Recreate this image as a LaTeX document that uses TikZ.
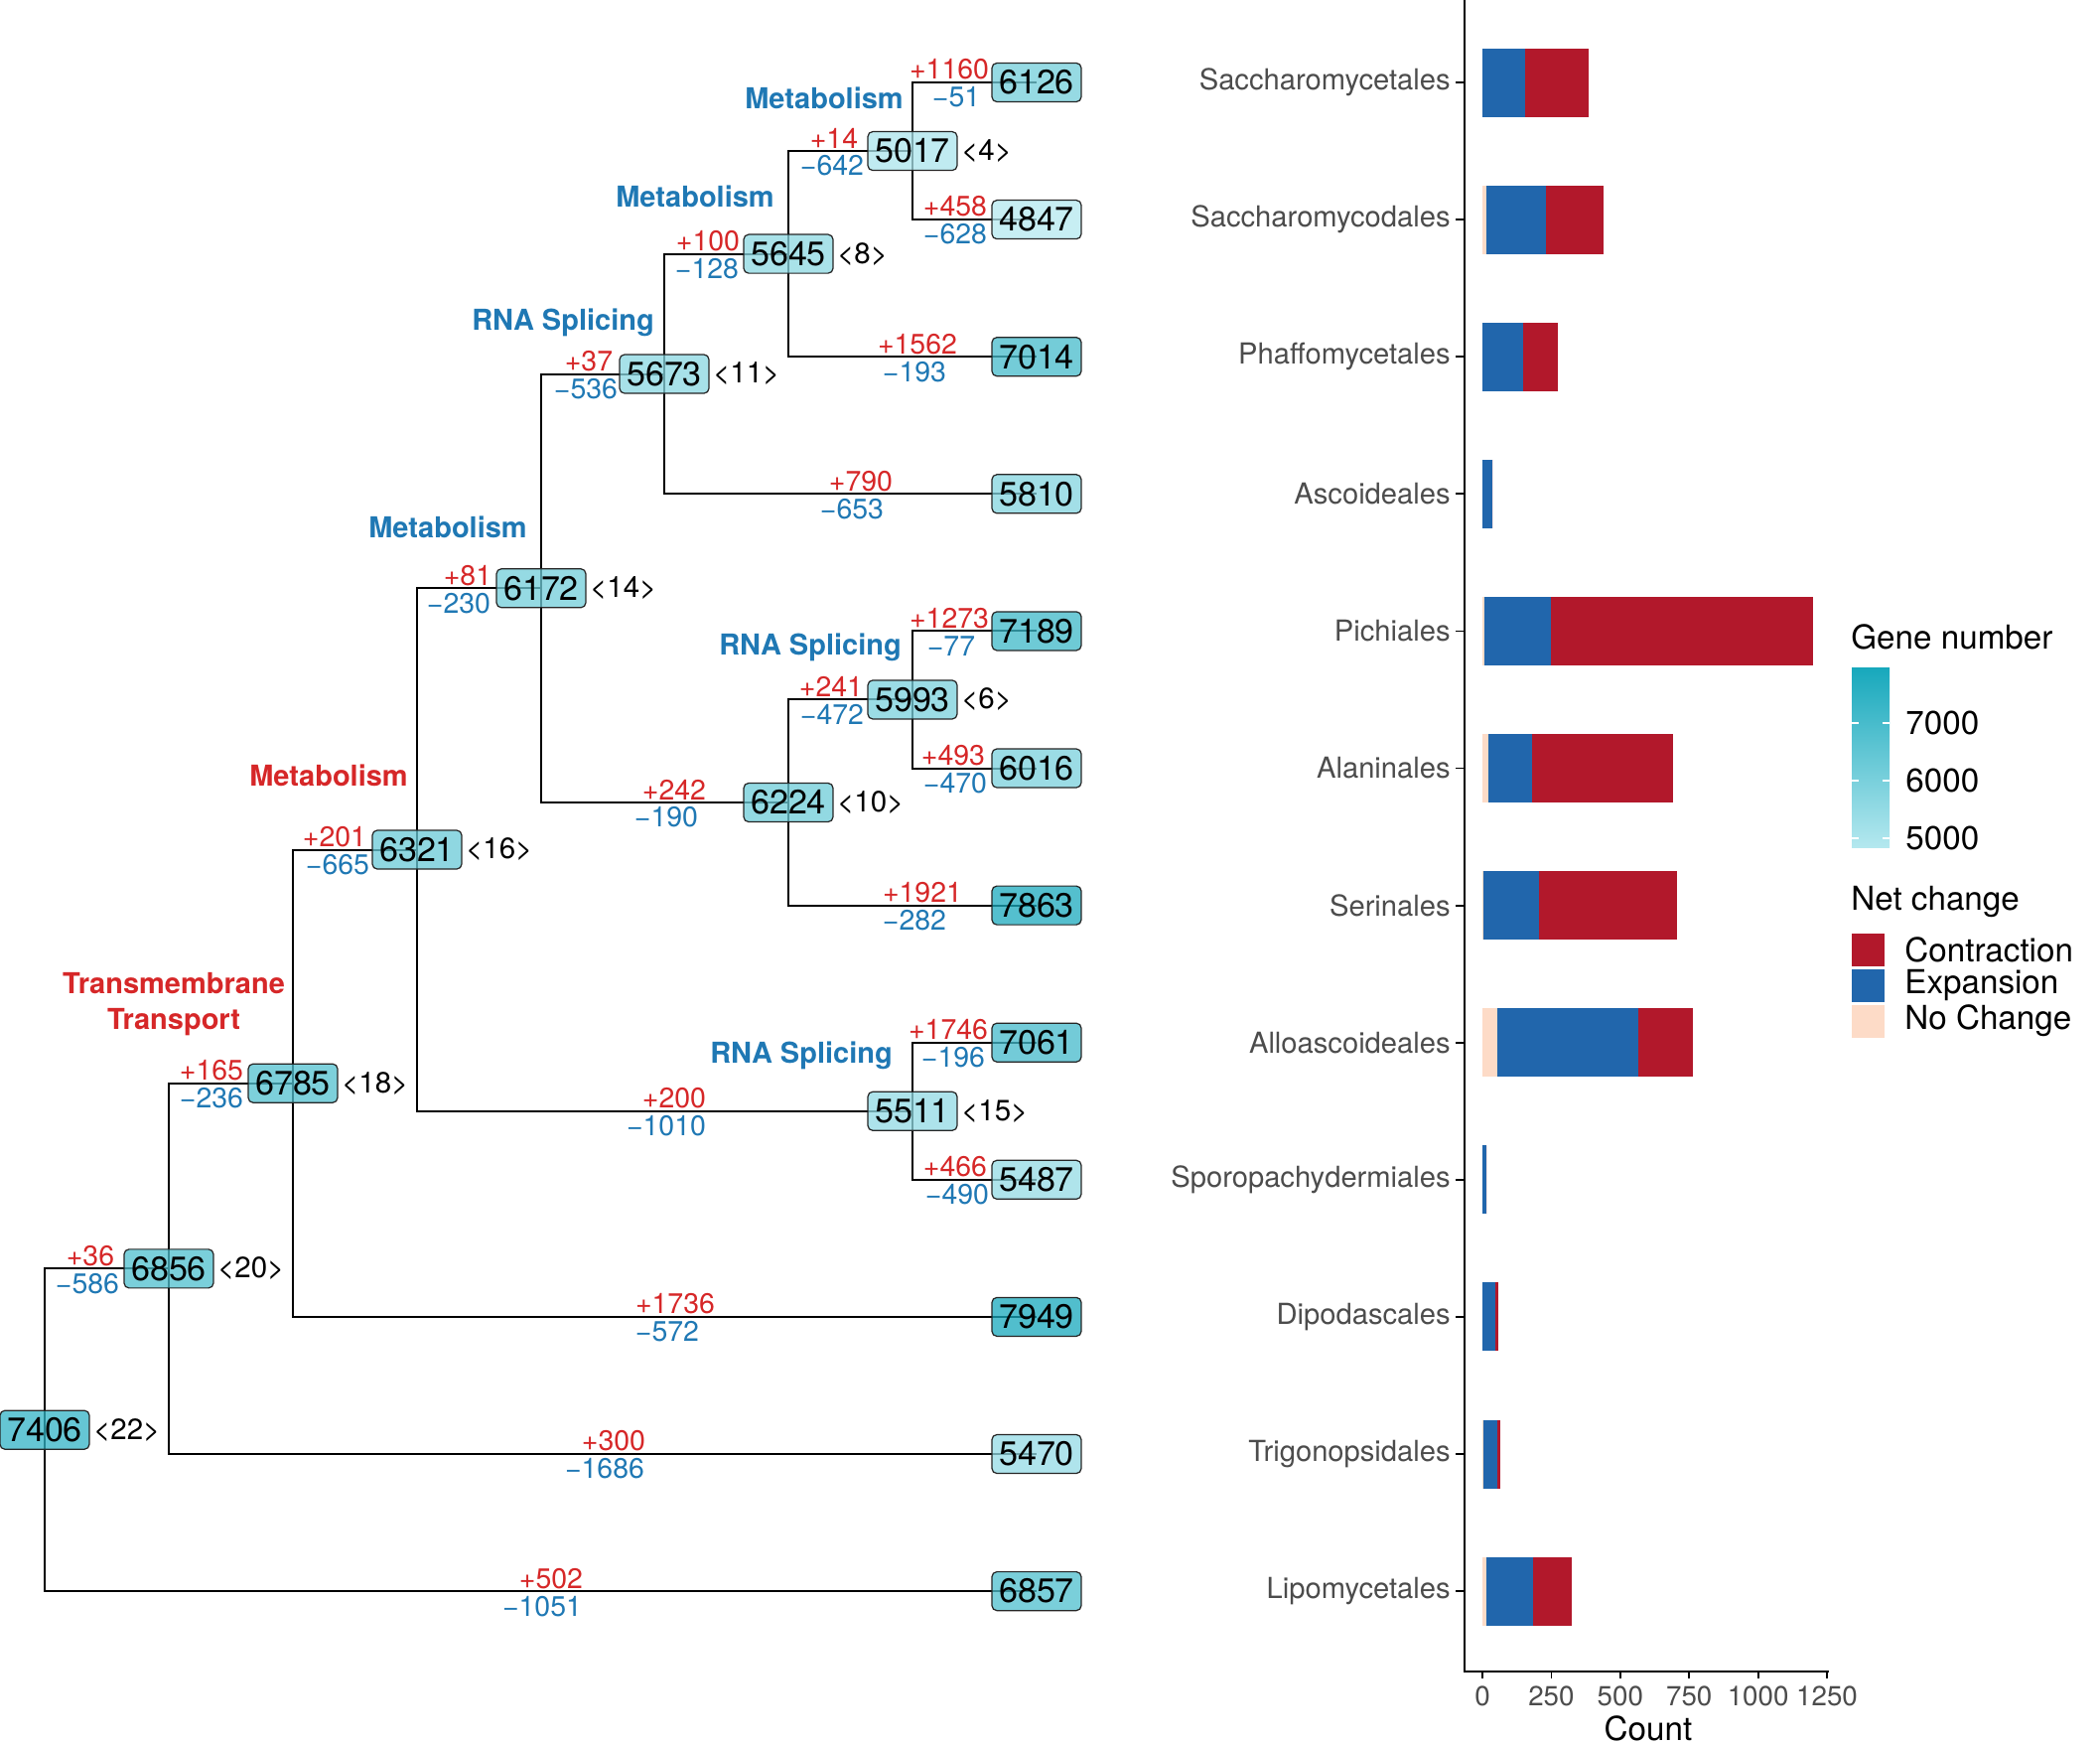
\documentclass[tikz,border=0pt]{standalone}
\usepackage{fontspec}
\setmainfont{TeX Gyre Heros}
\usepackage{tikz}
\usetikzlibrary{positioning}
\usetikzlibrary{backgrounds}

\definecolor{plusred}{HTML}{D62728}
\definecolor{minusblue}{HTML}{1F78B4}
\definecolor{contr}{HTML}{B2182B}
\definecolor{expan}{HTML}{2166AC}
\definecolor{nochg}{HTML}{FDDBC7}
\definecolor{genehi}{HTML}{17A8BC}
\definecolor{genelo}{HTML}{B4E8EF}

\begin{document}
\begin{tikzpicture}[x=0.02cm, y=-0.02cm,
  branch/.style={line width=1.15pt},
  gn/.style={/utils/exec={\pgfmathsetmacro\gpct{(#1-4847)/31.02}},
    fill=genehi!\gpct!genelo, fill opacity=0.75, text opacity=1,
    draw=black!85, line width=0.7pt, rounded corners=2.8pt,
    minimum width=51.2pt, minimum height=22.2pt, inner sep=0pt,
    font=\fontsize{19.4}{20}\selectfont},
  gain/.style={text=plusred, inner sep=0pt, font=\fontsize{16.2}{17}\selectfont},
  loss/.style={text=minusblue, inner sep=0pt, font=\fontsize{16.2}{17}\selectfont},
  tally/.style={inner sep=0pt, font=\fontsize{16.8}{17}\selectfont},
  func/.style={inner sep=0pt, align=center, font=\bfseries\fontsize{16.5}{20.5}\selectfont},
  ordlab/.style={text=black!70, inner sep=0pt, font=\fontsize{16.6}{17}\selectfont},
  ticklab/.style={text=black!70, inner sep=0pt, font=\fontsize{15.8}{16}\selectfont},
  leg/.style={inner sep=0pt, font=\fontsize{18.9}{20}\selectfont},
  axis/.style={line width=1.5pt}]
\useasboundingbox (0,0) rectangle (2115,1756);

% tree nodes: gene number / x / y
\foreach \g/\x/\y in {6126/1044/83, 4847/1044/221.1, 7014/1044/359.2, 5810/1044/497.3,
    7189/1044/635.4, 6016/1044/773.5, 7863/1044/911.6, 7061/1044/1049.7,
    5487/1044/1187.8, 7949/1044/1325.9, 5470/1044/1464, 6857/1044/1602.1,
    5017/919/152.05, 5993/919/704.45, 5511/919/1118.75, 5645/794/255.6,
    6224/794/808, 5673/669/376.5, 6172/545/592.25, 6321/420/855.5,
    6785/295/1090.7, 6856/170/1277.35, 7406/45/1439.7}
  \node[gn=\g] (n\g) at (\x,\y) {\g};

\begin{scope}[on background layer]
\foreach \p/\c in {7406/6856, 7406/6857, 6856/6785, 6856/5470, 6785/6321, 6785/7949,
    6321/6172, 6321/5511, 6172/5673, 6172/6224, 5673/5645, 5673/5810,
    5645/5017, 5645/7014, 5017/6126, 5017/4847, 6224/5993, 6224/7863,
    5993/7189, 5993/6016, 5511/7061, 5511/5487}
  \draw[branch] (n\p.center) |- (n\c.center);
\end{scope}

% gains and losses on each branch
\foreach \y/\xa/\pl/\xb/\mi in {83/956/1160/963/51, 221.1/962/458/962/628,
    152.05/840/14/838/642, 359.2/924/1562/921/193, 255.6/713/100/712/128,
    497.3/867/790/858/653, 376.5/593/37/590/536, 635.4/956/1273/958/77,
    773.5/960/493/962/470, 704.45/837/241/838/472, 911.6/929/1921/921/282,
    808/679/242/671/190, 592.25/471/81/462/230, 1049.7/955/1746/960/196,
    1187.8/962/466/964/490, 1118.75/679/200/671/1010, 855.5/337/201/340/665,
    1325.9/680/1736/672/572, 1090.7/213/165/213/236, 1464/618/300/609/1686,
    1277.35/91/36/88/586, 1602.1/555/502/546/1051}
  {\node[gain] at (\xa,\y-13) {+\pl};
   \node[loss] at (\xb,\y+15) {−\mi};}

\foreach \g/\t in {5017/4, 5645/8, 5673/11, 6172/14, 5993/6, 6224/10,
    6321/16, 6785/18, 5511/15, 6856/20, 7406/22}
  \node[tally, right=1.8pt of n\g] {<\t>};

\node[func, text=minusblue] at (830,99) {Metabolism};
\node[func, text=minusblue] at (700,198) {Metabolism};
\node[func, text=minusblue] at (567,325) {RNA Splicing};
\node[func, text=minusblue] at (451,531) {Metabolism};
\node[func, text=minusblue] at (816,652) {RNA Splicing};
\node[func, text=plusred] at (331,781) {Metabolism};
\node[func, text=plusred] at (175,1011) {Transmembrane\\Transport};
\node[func, text=minusblue] at (807,1063) {RNA Splicing};

% bar chart
\foreach \ord/\nc/\ex/\co [count=\i from 0] in {Saccharomycetales/0/155/230,
    Saccharomycodales/13/218/207, Phaffomycetales/0/148/126, Ascoideales/0/36/0,
    Pichiales/7/241/950, Alaninales/22/158/512, Serinales/3/202/501,
    Alloascoideales/54/512/198, Sporopachydermiales/0/16/0, Dipodascales/0/47/11,
    Trigonopsidales/4/49/13, Lipomycetales/14/169/140}
  {\pgfmathsetmacro\yy{83+138.1*\i}
   \pgfmathsetmacro\xa{1493+\nc*0.2776}
   \pgfmathsetmacro\xb{\xa+\ex*0.2776}
   \pgfmathsetmacro\xc{\xb+\co*0.2776}
   \fill[nochg] (1493,\yy-34.5) rectangle (\xa,\yy+34.5);
   \fill[expan] (\xa,\yy-34.5) rectangle (\xb,\yy+34.5);
   \fill[contr] (\xb,\yy-34.5) rectangle (\xc,\yy+34.5);
   \node[ordlab, anchor=east] (o\i) at (1461,\yy) {\ord};
   \draw[axis, line width=1pt] (1466,\yy) -- (1475,\yy);}

\draw[axis] (1475,0) -- (1475,1683) -- (1842,1683);
\foreach \v in {0,250,...,1250}
  {\pgfmathsetmacro\xt{1493+\v*0.2776}
   \draw[axis, line width=1pt] (\xt,1683) -- (\xt,1690);
   \node[ticklab] at (\xt,1708) {\v};}
\node[leg] at (1660,1740) {Count};

% legends
\node[leg, anchor=west] at (1864,641) {Gene number};
\shade[top color=genehi, bottom color=genelo] (1865,672) rectangle (1903,853);
\foreach \v in {5000,6000,7000}
  {\pgfmathsetmacro\yt{844-(\v-5000)*0.058}
   \draw[white, line width=0.6pt] (1865,\yt) -- (1872,\yt);
   \draw[white, line width=0.6pt] (1896,\yt) -- (1903,\yt);
   \node[leg, anchor=west] at (1919,\yt) {\v};}

\node[leg, anchor=west] at (1864,908) {Net change};
\fill[contr] (1865,940) rectangle (1898,973);
\fill[expan] (1865,976) rectangle (1898,1009);
\fill[nochg] (1865,1012) rectangle (1898,1045);
\node[leg, anchor=west] at (1918,956) {Contraction};
\node[leg, anchor=west] at (1918,992) {Expansion};
\node[leg, anchor=west] at (1918,1028) {No Change};
\end{tikzpicture}
\end{document}
